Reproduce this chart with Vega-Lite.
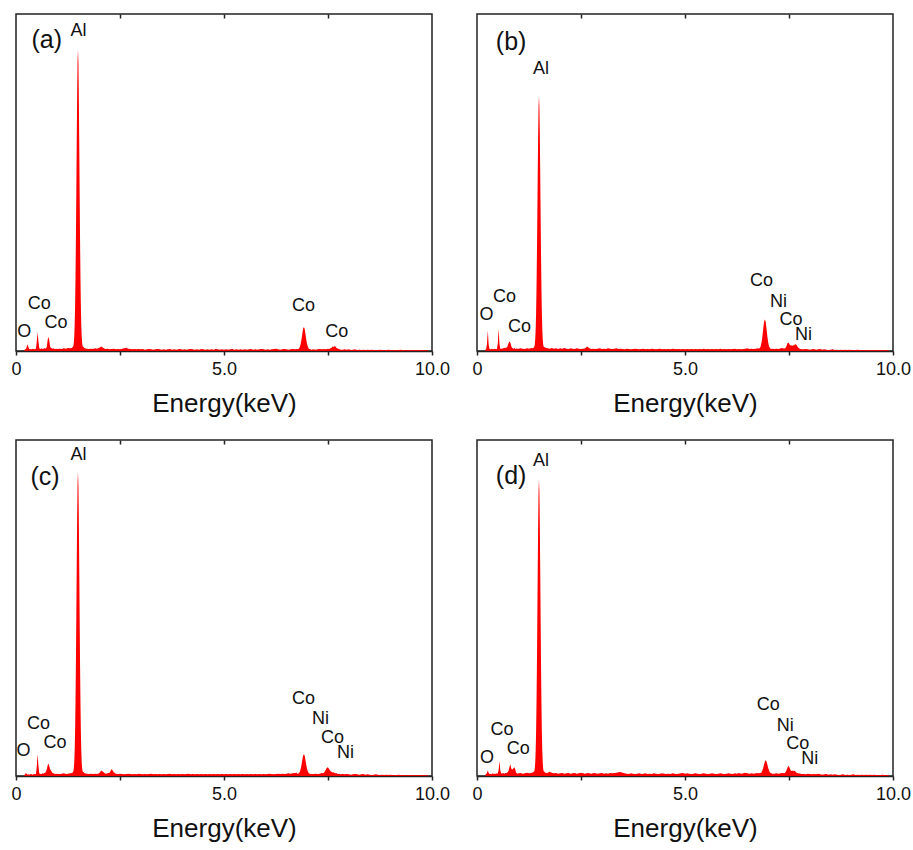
{
"$schema": "https://vega.github.io/schema/vega-lite/v6.json",
"background": "white",
"padding": {"left": 10, "top": 12, "right": 2, "bottom": 2},
"config": {
  "font": "Liberation Sans",
  "view": {"stroke": "#222", "strokeWidth": 1.5},
  "axis": {"grid": false, "domainColor": "#222", "tickColor": "#222", "labelColor": "#111", "titleColor": "#111", "labelFontSize": 18, "titleFontSize": 26, "titleFontWeight": "normal", "labelFont": "Liberation Sans", "titleFont": "Liberation Sans"},
  "text": {"font": "Liberation Sans", "color": "#111"}
},
"datasets": {
"spec": [
{"e":0.20,"a":0.3,"b":0.4,"c":0.3,"d":0.4},{"e":0.22,"a":0.5,"b":0.6,"c":0.5,"d":0.6},{"e":0.24,"a":0.6,"b":2.1,"c":0.9,"d":0.9},{"e":0.26,"a":1.3,"b":6.1,"c":0.6,"d":1.7},{"e":0.28,"a":2.0,"b":2.0,"c":0.4,"d":0.9},{"e":0.30,"a":1.1,"b":0.6,"c":0.5,"d":0.6},{"e":0.32,"a":0.6,"b":0.5,"c":0.4,"d":0.7},{"e":0.34,"a":0.5,"b":0.6,"c":0.5,"d":0.5},{"e":0.36,"a":0.6,"b":0.7,"c":0.6,"d":0.6},{"e":0.38,"a":0.5,"b":0.5,"c":0.5,"d":0.8},{"e":0.40,"a":0.7,"b":0.6,"c":0.4,"d":0.6},{"e":0.42,"a":0.6,"b":0.7,"c":0.5,"d":0.7},{"e":0.44,"a":0.5,"b":0.6,"c":0.6,"d":0.6},{"e":0.46,"a":0.6,"b":0.5,"c":0.5,"d":0.8},{"e":0.48,"a":0.7,"b":0.7,"c":0.6,"d":0.7},{"e":0.50,"a":2.9,"b":2.2,"c":2.9,"d":0.8},{"e":0.52,"a":5.6,"b":6.6,"c":6.5,"d":1.8},{"e":0.54,"a":2.8,"b":2.1,"c":3.0,"d":4.5},{"e":0.56,"a":0.8,"b":0.7,"c":0.8,"d":1.7},{"e":0.58,"a":0.7,"b":0.6,"c":0.6,"d":0.8},{"e":0.60,"a":0.6,"b":0.8,"c":0.7,"d":0.7},{"e":0.62,"a":0.8,"b":0.7,"c":0.6,"d":0.9},{"e":0.64,"a":0.6,"b":0.9,"c":0.8,"d":0.8},{"e":0.66,"a":0.7,"b":1.0,"c":0.7,"d":0.7},{"e":0.68,"a":0.9,"b":0.8,"c":0.9,"d":0.9},{"e":0.70,"a":0.7,"b":1.1,"c":1.0,"d":0.8},{"e":0.72,"a":0.8,"b":1.0,"c":1.3,"d":1.0},{"e":0.74,"a":1.2,"b":1.6,"c":2.0,"d":1.1},{"e":0.76,"a":3.2,"b":2.4,"c":3.1,"d":1.6},{"e":0.78,"a":4.2,"b":2.8,"c":3.7,"d":2.6},{"e":0.80,"a":3.1,"b":2.5,"c":3.0,"d":3.5},{"e":0.82,"a":1.3,"b":1.6,"c":2.0,"d":2.4},{"e":0.84,"a":0.9,"b":1.0,"c":1.6,"d":1.9},{"e":0.86,"a":0.8,"b":0.8,"c":1.2,"d":2.0},{"e":0.88,"a":0.7,"b":0.7,"c":0.9,"d":2.4},{"e":0.90,"a":0.8,"b":0.9,"c":0.8,"d":2.6},{"e":0.92,"a":0.6,"b":0.6,"c":0.7,"d":1.9},{"e":0.94,"a":0.7,"b":0.7,"c":0.6,"d":1.0},{"e":0.96,"a":0.6,"b":0.8,"c":0.7,"d":0.8},{"e":0.98,"a":0.7,"b":0.6,"c":0.6,"d":0.7},{"e":1.00,"a":0.6,"b":0.7,"c":0.7,"d":0.8},
{"e":1.05,"a":0.7,"b":0.8,"c":0.6,"d":0.9},{"e":1.10,"a":0.6,"b":0.7,"c":0.7,"d":0.7},{"e":1.15,"a":0.8,"b":0.6,"c":0.8,"d":0.8},{"e":1.20,"a":0.7,"b":0.8,"c":0.6,"d":1.0},{"e":1.25,"a":0.9,"b":0.7,"c":0.7,"d":0.8},{"e":1.30,"a":0.8,"b":0.9,"c":0.8,"d":0.9},{"e":1.35,"a":1.0,"b":0.8,"c":0.9,"d":1.1},
{"e":1.38,"a":1.5,"b":1.3,"c":1.4,"d":1.5},{"e":1.39,"a":2.4,"b":2.1,"c":2.3,"d":2.4},{"e":1.40,"a":4.2,"b":3.6,"c":4.1,"d":4.1},{"e":1.41,"a":7.4,"b":6.3,"c":7.4,"d":7.3},{"e":1.42,"a":12.9,"b":10.9,"c":12.9,"d":12.7},{"e":1.43,"a":21.3,"b":18.0,"c":21.5,"d":21.0},{"e":1.44,"a":32.8,"b":27.8,"c":33.1,"d":32.4},{"e":1.45,"a":47.0,"b":39.7,"c":47.5,"d":46.3},{"e":1.46,"a":62.0,"b":52.5,"c":62.8,"d":61.2},{"e":1.47,"a":76.2,"b":64.5,"c":77.1,"d":75.2},{"e":1.48,"a":86.0,"b":72.7,"c":87.0,"d":84.8},{"e":1.49,"a":89.5,"b":75.7,"c":90.6,"d":88.3},{"e":1.50,"a":86.0,"b":72.7,"c":87.0,"d":84.8},{"e":1.51,"a":76.2,"b":64.5,"c":77.1,"d":75.2},{"e":1.52,"a":62.0,"b":52.5,"c":62.8,"d":61.2},{"e":1.53,"a":47.0,"b":39.7,"c":47.5,"d":46.3},{"e":1.54,"a":32.8,"b":27.8,"c":33.1,"d":32.4},{"e":1.55,"a":21.3,"b":18.0,"c":21.5,"d":21.0},{"e":1.56,"a":12.9,"b":10.9,"c":12.9,"d":12.7},{"e":1.57,"a":7.4,"b":6.3,"c":7.4,"d":7.3},{"e":1.58,"a":4.2,"b":3.6,"c":4.1,"d":4.1},{"e":1.59,"a":2.4,"b":2.1,"c":2.3,"d":2.4},{"e":1.60,"a":1.5,"b":1.3,"c":1.4,"d":1.5},
{"e":1.65,"a":0.8,"b":1.0,"c":0.8,"d":0.9},{"e":1.70,"a":0.7,"b":0.8,"c":0.7,"d":1.0},{"e":1.75,"a":0.6,"b":0.7,"c":0.6,"d":1.3},{"e":1.80,"a":0.7,"b":0.9,"c":0.7,"d":1.0},{"e":1.85,"a":0.6,"b":0.7,"c":0.6,"d":0.8},{"e":1.90,"a":0.8,"b":0.8,"c":0.7,"d":0.9},{"e":1.95,"a":0.7,"b":0.6,"c":0.6,"d":0.7},{"e":2.00,"a":1.0,"b":0.8,"c":0.8,"d":0.8},{"e":2.05,"a":1.3,"b":0.7,"c":1.6,"d":0.9},{"e":2.10,"a":0.9,"b":0.9,"c":1.2,"d":0.7},{"e":2.15,"a":0.6,"b":0.7,"c":0.7,"d":0.8},{"e":2.20,"a":0.7,"b":0.6,"c":0.8,"d":0.9},{"e":2.25,"a":0.5,"b":0.8,"c":1.0,"d":0.7},{"e":2.30,"a":0.6,"b":0.7,"c":2.1,"d":0.8},{"e":2.35,"a":0.7,"b":0.6,"c":1.1,"d":0.9},{"e":2.40,"a":0.5,"b":0.8,"c":0.7,"d":0.7},{"e":2.45,"a":0.6,"b":0.7,"c":0.6,"d":0.8},{"e":2.50,"a":0.5,"b":0.6,"c":0.7,"d":1.0},{"e":2.55,"a":0.7,"b":0.7,"c":0.6,"d":0.8},{"e":2.60,"a":0.8,"b":0.8,"c":0.5,"d":0.7},{"e":2.65,"a":1.0,"b":1.3,"c":0.6,"d":0.9},{"e":2.70,"a":0.7,"b":0.8,"c":0.7,"d":0.8},{"e":2.75,"a":0.6,"b":0.6,"c":0.6,"d":0.7},{"e":2.80,"a":0.5,"b":0.7,"c":0.5,"d":0.9},{"e":2.85,"a":0.6,"b":0.6,"c":0.6,"d":0.8},{"e":2.90,"a":0.5,"b":0.7,"c":0.5,"d":0.7},{"e":2.95,"a":0.6,"b":0.8,"c":0.7,"d":0.8},{"e":3.00,"a":0.5,"b":0.6,"c":0.6,"d":0.9},{"e":3.05,"a":0.6,"b":0.7,"c":0.5,"d":0.7},{"e":3.10,"a":0.4,"b":0.6,"c":0.6,"d":0.8},{"e":3.15,"a":0.5,"b":0.8,"c":0.5,"d":0.7},{"e":3.20,"a":0.6,"b":0.7,"c":0.6,"d":0.9},{"e":3.25,"a":0.5,"b":0.6,"c":0.7,"d":0.8},{"e":3.30,"a":0.4,"b":0.7,"c":0.5,"d":0.9},{"e":3.35,"a":0.5,"b":0.8,"c":0.6,"d":1.0},{"e":3.40,"a":0.6,"b":0.6,"c":0.5,"d":1.1},{"e":3.45,"a":0.5,"b":0.7,"c":0.6,"d":1.2},{"e":3.50,"a":0.4,"b":0.6,"c":0.5,"d":1.0},{"e":3.55,"a":0.5,"b":0.5,"c":0.6,"d":0.8},{"e":3.60,"a":0.4,"b":0.7,"c":0.5,"d":0.7},{"e":3.65,"a":0.5,"b":0.6,"c":0.6,"d":0.6},{"e":3.70,"a":0.6,"b":0.5,"c":0.7,"d":0.8},{"e":3.75,"a":0.4,"b":0.6,"c":0.5,"d":0.7},{"e":3.80,"a":0.5,"b":0.7,"c":0.6,"d":0.6},{"e":3.85,"a":0.4,"b":0.6,"c":0.5,"d":0.7},{"e":3.90,"a":0.5,"b":0.5,"c":0.6,"d":0.8},{"e":3.95,"a":0.6,"b":0.6,"c":0.5,"d":0.6},{"e":4.00,"a":0.4,"b":0.7,"c":0.6,"d":0.7},{"e":4.05,"a":0.5,"b":0.5,"c":0.5,"d":0.8},{"e":4.10,"a":0.4,"b":0.6,"c":0.6,"d":0.6},{"e":4.15,"a":0.5,"b":0.5,"c":0.7,"d":0.7},{"e":4.20,"a":0.6,"b":0.7,"c":0.5,"d":0.6},{"e":4.25,"a":0.5,"b":0.6,"c":0.6,"d":0.8},{"e":4.30,"a":0.4,"b":0.5,"c":0.5,"d":0.7},{"e":4.35,"a":0.5,"b":0.6,"c":0.6,"d":0.6},{"e":4.40,"a":0.4,"b":0.7,"c":0.5,"d":0.7},{"e":4.45,"a":0.6,"b":0.5,"c":0.6,"d":0.8},{"e":4.50,"a":0.5,"b":0.6,"c":0.5,"d":0.7},{"e":4.55,"a":0.4,"b":0.5,"c":0.6,"d":0.6},{"e":4.60,"a":0.5,"b":0.6,"c":0.5,"d":0.7},{"e":4.65,"a":0.4,"b":0.5,"c":0.6,"d":0.6},{"e":4.70,"a":0.5,"b":0.7,"c":0.5,"d":0.8},{"e":4.75,"a":0.4,"b":0.6,"c":0.6,"d":0.7},{"e":4.80,"a":0.6,"b":0.5,"c":0.5,"d":0.6},{"e":4.85,"a":0.5,"b":0.6,"c":0.6,"d":0.7},{"e":4.90,"a":0.4,"b":0.5,"c":0.5,"d":0.8},{"e":4.95,"a":0.5,"b":0.6,"c":0.6,"d":0.9},{"e":5.00,"a":0.4,"b":0.5,"c":0.5,"d":0.7},{"e":5.05,"a":0.5,"b":0.6,"c":0.6,"d":0.8},{"e":5.10,"a":0.4,"b":0.5,"c":0.5,"d":0.7},{"e":5.15,"a":0.5,"b":0.6,"c":0.6,"d":0.6},{"e":5.20,"a":0.6,"b":0.5,"c":0.5,"d":0.7},{"e":5.25,"a":0.4,"b":0.6,"c":0.6,"d":0.8},{"e":5.30,"a":0.5,"b":0.5,"c":0.5,"d":0.7},{"e":5.35,"a":0.4,"b":0.6,"c":0.6,"d":0.6},{"e":5.40,"a":0.5,"b":0.5,"c":0.5,"d":0.7},{"e":5.45,"a":0.4,"b":0.7,"c":0.6,"d":0.8},{"e":5.50,"a":0.5,"b":0.5,"c":0.5,"d":0.7},{"e":5.55,"a":0.4,"b":0.6,"c":0.6,"d":0.6},{"e":5.60,"a":0.5,"b":0.5,"c":0.5,"d":0.7},{"e":5.65,"a":0.6,"b":0.6,"c":0.6,"d":0.8},{"e":5.70,"a":0.4,"b":0.5,"c":0.5,"d":0.7},{"e":5.75,"a":0.5,"b":0.6,"c":0.6,"d":0.6},{"e":5.80,"a":0.4,"b":0.5,"c":0.5,"d":0.7},{"e":5.85,"a":0.5,"b":0.7,"c":0.6,"d":0.8},{"e":5.90,"a":0.6,"b":0.5,"c":0.5,"d":0.7},{"e":5.95,"a":0.5,"b":0.6,"c":0.6,"d":0.6},{"e":6.00,"a":0.4,"b":0.5,"c":0.5,"d":0.7},{"e":6.05,"a":0.5,"b":0.6,"c":0.6,"d":0.8},{"e":6.10,"a":0.4,"b":0.5,"c":0.7,"d":0.7},{"e":6.15,"a":0.5,"b":0.6,"c":0.6,"d":0.6},{"e":6.20,"a":0.6,"b":0.7,"c":0.5,"d":0.8},{"e":6.25,"a":0.7,"b":0.5,"c":0.6,"d":0.7},{"e":6.30,"a":0.5,"b":0.6,"c":0.7,"d":0.9},{"e":6.35,"a":0.4,"b":0.5,"c":0.6,"d":0.7},{"e":6.40,"a":0.5,"b":0.6,"c":0.7,"d":0.8},{"e":6.45,"a":0.6,"b":0.7,"c":0.6,"d":1.0},{"e":6.50,"a":0.5,"b":0.8,"c":0.7,"d":0.8},{"e":6.55,"a":0.4,"b":0.6,"c":0.8,"d":0.7},{"e":6.60,"a":0.5,"b":0.7,"c":0.7,"d":0.8},{"e":6.65,"a":0.6,"b":0.6,"c":0.8,"d":0.7},{"e":6.70,"a":0.5,"b":0.7,"c":0.9,"d":0.8},{"e":6.75,"a":0.6,"b":0.8,"c":1.0,"d":0.9},
{"e":6.76,"a":0.5,"b":0.7,"c":0.7,"d":0.8},{"e":6.78,"a":0.6,"b":0.8,"c":0.7,"d":0.8},{"e":6.80,"a":0.7,"b":0.9,"c":0.9,"d":0.9},{"e":6.82,"a":1.1,"b":1.4,"c":1.2,"d":0.9},{"e":6.84,"a":1.9,"b":2.5,"c":1.9,"d":1.1},{"e":6.86,"a":3.2,"b":4.3,"c":3.1,"d":1.6},{"e":6.88,"a":4.9,"b":6.5,"c":4.6,"d":2.4},{"e":6.90,"a":6.5,"b":8.6,"c":6.0,"d":3.4},{"e":6.92,"a":7.1,"b":9.4,"c":6.5,"d":4.3},{"e":6.94,"a":6.5,"b":8.6,"c":6.0,"d":4.7},{"e":6.96,"a":4.9,"b":6.5,"c":4.6,"d":4.3},{"e":6.98,"a":3.2,"b":4.3,"c":3.1,"d":3.4},{"e":7.00,"a":1.9,"b":2.5,"c":1.9,"d":2.4},{"e":7.02,"a":1.1,"b":1.4,"c":1.2,"d":1.6},{"e":7.04,"a":0.7,"b":0.9,"c":0.9,"d":1.1},{"e":7.06,"a":0.6,"b":0.7,"c":0.7,"d":0.9},{"e":7.08,"a":0.5,"b":0.6,"c":0.6,"d":0.8},{"e":7.10,"a":0.4,"b":0.7,"c":0.6,"d":0.7},
{"e":7.15,"a":0.5,"b":0.6,"c":0.6,"d":0.7},{"e":7.20,"a":0.4,"b":0.7,"c":0.7,"d":0.8},{"e":7.25,"a":0.5,"b":0.6,"c":0.6,"d":0.7},{"e":7.30,"a":0.6,"b":0.8,"c":0.7,"d":0.8},{"e":7.35,"a":0.5,"b":0.9,"c":0.9,"d":0.9},
{"e":7.38,"a":0.5,"b":0.7,"c":0.8,"d":0.8},{"e":7.40,"a":0.6,"b":0.8,"c":1.0,"d":0.9},{"e":7.42,"a":0.5,"b":1.0,"c":1.3,"d":1.2},{"e":7.44,"a":0.6,"b":1.5,"c":1.7,"d":1.7},{"e":7.46,"a":0.5,"b":2.2,"c":2.2,"d":2.4},{"e":7.48,"a":0.6,"b":2.5,"c":2.5,"d":3.0},{"e":7.50,"a":0.7,"b":2.3,"c":2.5,"d":2.8},{"e":7.52,"a":0.6,"b":1.8,"c":2.2,"d":2.2},{"e":7.54,"a":0.7,"b":1.6,"c":1.8,"d":1.7},{"e":7.56,"a":0.8,"b":1.7,"c":1.5,"d":1.5},{"e":7.58,"a":0.9,"b":1.5,"c":1.3,"d":1.6},{"e":7.60,"a":1.2,"b":1.8,"c":1.2,"d":1.4},{"e":7.62,"a":1.4,"b":1.6,"c":1.0,"d":1.6},{"e":7.64,"a":1.1,"b":1.9,"c":1.1,"d":1.5},{"e":7.66,"a":1.5,"b":2.0,"c":0.9,"d":1.3},{"e":7.68,"a":1.3,"b":1.8,"c":0.8,"d":1.0},{"e":7.70,"a":1.0,"b":1.4,"c":0.9,"d":0.9},{"e":7.72,"a":0.8,"b":1.0,"c":0.7,"d":0.8},{"e":7.74,"a":0.7,"b":0.8,"c":0.6,"d":0.7},{"e":7.76,"a":0.6,"b":0.7,"c":0.7,"d":0.8},{"e":7.78,"a":0.5,"b":0.6,"c":0.6,"d":0.7},{"e":7.80,"a":0.4,"b":0.5,"c":0.5,"d":0.6},
{"e":7.85,"a":0.4,"b":0.5,"c":0.6,"d":0.6},{"e":7.90,"a":0.5,"b":0.6,"c":0.5,"d":0.5},{"e":7.95,"a":0.4,"b":0.5,"c":0.6,"d":0.7},{"e":8.00,"a":0.5,"b":0.4,"c":0.5,"d":0.6},{"e":8.05,"a":0.3,"b":0.5,"c":0.4,"d":0.5},{"e":8.10,"a":0.4,"b":0.6,"c":0.5,"d":0.6},{"e":8.15,"a":0.5,"b":0.4,"c":0.6,"d":0.5},{"e":8.20,"a":0.3,"b":0.5,"c":0.5,"d":0.7},{"e":8.25,"a":0.4,"b":0.6,"c":0.4,"d":0.5},{"e":8.30,"a":0.3,"b":0.4,"c":0.5,"d":0.4},{"e":8.35,"a":0.4,"b":0.5,"c":0.6,"d":0.5},{"e":8.40,"a":0.3,"b":0.4,"c":0.4,"d":0.6},{"e":8.45,"a":0.4,"b":0.3,"c":0.5,"d":0.4},{"e":8.50,"a":0.3,"b":0.4,"c":0.4,"d":0.5},{"e":8.55,"a":0.4,"b":0.5,"c":0.3,"d":0.4},{"e":8.60,"a":0.3,"b":0.3,"c":0.4,"d":0.5},{"e":8.65,"a":0.2,"b":0.4,"c":0.5,"d":0.4},{"e":8.70,"a":0.3,"b":0.3,"c":0.4,"d":0.3},{"e":8.75,"a":0.4,"b":0.4,"c":0.3,"d":0.4},{"e":8.80,"a":0.3,"b":0.3,"c":0.4,"d":0.5},{"e":8.85,"a":0.2,"b":0.4,"c":0.3,"d":0.3},{"e":8.90,"a":0.3,"b":0.3,"c":0.4,"d":0.4},{"e":8.95,"a":0.4,"b":0.4,"c":0.3,"d":0.3},{"e":9.00,"a":0.3,"b":0.3,"c":0.4,"d":0.4},{"e":9.05,"a":0.2,"b":0.2,"c":0.3,"d":0.5},{"e":9.10,"a":0.3,"b":0.3,"c":0.2,"d":0.3},{"e":9.15,"a":0.2,"b":0.4,"c":0.3,"d":0.4},{"e":9.20,"a":0.3,"b":0.3,"c":0.4,"d":0.3},{"e":9.25,"a":0.4,"b":0.2,"c":0.3,"d":0.4},{"e":9.30,"a":0.2,"b":0.3,"c":0.2,"d":0.3},{"e":9.35,"a":0.3,"b":0.2,"c":0.3,"d":0.4},{"e":9.40,"a":0.2,"b":0.3,"c":0.2,"d":0.3},{"e":9.45,"a":0.3,"b":0.2,"c":0.3,"d":0.4},{"e":9.50,"a":0.2,"b":0.3,"c":0.2,"d":0.3},{"e":9.55,"a":0.3,"b":0.2,"c":0.3,"d":0.4},{"e":9.60,"a":0.2,"b":0.3,"c":0.2,"d":0.3},{"e":9.65,"a":0.3,"b":0.2,"c":0.3,"d":0.2},{"e":9.70,"a":0.2,"b":0.3,"c":0.2,"d":0.3},{"e":9.75,"a":0.3,"b":0.2,"c":0.3,"d":0.4},{"e":9.80,"a":0.2,"b":0.3,"c":0.2,"d":0.3},{"e":9.85,"a":0.2,"b":0.2,"c":0.2,"d":0.2},{"e":9.90,"a":0.2,"b":0.2,"c":0.2,"d":0.3}
],
"peaks": [
{"p":"a","t":"Al","e":1.50,"y":95.0},{"p":"a","t":"Co","e":0.56,"y":13.9},{"p":"a","t":"O","e":0.20,"y":5.7},{"p":"a","t":"Co","e":0.96,"y":8.4},{"p":"a","t":"Co","e":6.91,"y":13.4},{"p":"a","t":"Co","e":7.71,"y":5.7},
{"p":"b","t":"Al","e":1.54,"y":83.6},{"p":"b","t":"Co","e":0.66,"y":16.1},{"p":"b","t":"O","e":0.23,"y":10.6},{"p":"b","t":"Co","e":1.02,"y":7.1},{"p":"b","t":"Co","e":6.84,"y":20.8},{"p":"b","t":"Ni","e":7.25,"y":14.5},{"p":"b","t":"Co","e":7.55,"y":9.1},{"p":"b","t":"Ni","e":7.85,"y":4.7},
{"p":"c","t":"Al","e":1.50,"y":95.5},{"p":"c","t":"Co","e":0.54,"y":15.6},{"p":"c","t":"O","e":0.18,"y":7.4},{"p":"c","t":"Co","e":0.94,"y":9.9},{"p":"c","t":"Co","e":6.91,"y":23.0},{"p":"c","t":"Ni","e":7.32,"y":16.9},{"p":"c","t":"Co","e":7.61,"y":11.4},{"p":"c","t":"Ni","e":7.92,"y":6.8},
{"p":"d","t":"Al","e":1.54,"y":93.8},{"p":"d","t":"Co","e":0.60,"y":13.6},{"p":"d","t":"O","e":0.24,"y":5.4},{"p":"d","t":"Co","e":0.99,"y":7.9},{"p":"d","t":"Co","e":7.00,"y":21.0},{"p":"d","t":"Ni","e":7.41,"y":14.9},{"p":"d","t":"Co","e":7.71,"y":9.6},{"p":"d","t":"Ni","e":8.00,"y":5.0}
],
"tags": [
{"p":"a","t":"(a)","e":0.74,"y":92.2},{"p":"b","t":"(b)","e":0.82,"y":91.8},{"p":"c","t":"(c)","e":0.70,"y":89.0},{"p":"d","t":"(d)","e":0.82,"y":89.3}
]
},
"bounds": "flush",
"columns": 2,
"spacing": {"row": 89, "column": 45},
"concat": [
{"width": 416, "height": 337, "resolve": {"axis": {"x": "independent"}}, "layer": [
 {"data": {"name": "spec"}, "mark": {"type": "area", "color": "#ff0000"}, "encoding": {"x": {"field": "e", "type": "quantitative", "scale": {"domain": [0, 10]}, "axis": {"orient": "bottom", "values": [0, 2.5, 5, 7.5, 10], "labelExpr": "datum.value == 0 ? '0' : (datum.value == 5 || datum.value == 10) ? format(datum.value, '.1f') : ''", "title": "Energy(keV)", "tickSize": 4, "tickWidth": 1.5, "domainWidth": 1.5, "labelPadding": 5, "titlePadding": 12, "labelFlush": false, "labelOverlap": false}}, "y": {"field": "a", "type": "quantitative", "scale": {"domain": [0, 100]}, "axis": null}}},
 {"data": {"name": "peaks"}, "transform": [{"filter": "datum.p == 'a'"}], "mark": {"type": "text", "fontSize": 18}, "encoding": {"x": {"field": "e", "type": "quantitative", "axis": {"orient": "top", "values": [2.5, 5, 7.5], "labels": false, "title": null, "tickSize": -4, "tickWidth": 1.5, "domain": false}}, "y": {"field": "y", "type": "quantitative", "axis": null}, "text": {"field": "t"}}},
 {"data": {"name": "tags"}, "transform": [{"filter": "datum.p == 'a'"}], "mark": {"type": "text", "fontSize": 25}, "encoding": {"x": {"field": "e", "type": "quantitative", "axis": null}, "y": {"field": "y", "type": "quantitative", "axis": null}, "text": {"field": "t"}}}
]},
{"width": 416, "height": 337, "resolve": {"axis": {"x": "independent"}}, "layer": [
 {"data": {"name": "spec"}, "mark": {"type": "area", "color": "#ff0000"}, "encoding": {"x": {"field": "e", "type": "quantitative", "scale": {"domain": [0, 10]}, "axis": {"orient": "bottom", "values": [0, 2.5, 5, 7.5, 10], "labelExpr": "datum.value == 0 ? '0' : (datum.value == 5 || datum.value == 10) ? format(datum.value, '.1f') : ''", "title": "Energy(keV)", "tickSize": 4, "tickWidth": 1.5, "domainWidth": 1.5, "labelPadding": 5, "titlePadding": 12, "labelFlush": false, "labelOverlap": false}}, "y": {"field": "b", "type": "quantitative", "scale": {"domain": [0, 100]}, "axis": null}}},
 {"data": {"name": "peaks"}, "transform": [{"filter": "datum.p == 'b'"}], "mark": {"type": "text", "fontSize": 18}, "encoding": {"x": {"field": "e", "type": "quantitative", "axis": {"orient": "top", "values": [2.5, 5, 7.5], "labels": false, "title": null, "tickSize": -4, "tickWidth": 1.5, "domain": false}}, "y": {"field": "y", "type": "quantitative", "axis": null}, "text": {"field": "t"}}},
 {"data": {"name": "tags"}, "transform": [{"filter": "datum.p == 'b'"}], "mark": {"type": "text", "fontSize": 25}, "encoding": {"x": {"field": "e", "type": "quantitative", "axis": null}, "y": {"field": "y", "type": "quantitative", "axis": null}, "text": {"field": "t"}}}
]},
{"width": 416, "height": 336, "resolve": {"axis": {"x": "independent"}}, "layer": [
 {"data": {"name": "spec"}, "mark": {"type": "area", "color": "#ff0000"}, "encoding": {"x": {"field": "e", "type": "quantitative", "scale": {"domain": [0, 10]}, "axis": {"orient": "bottom", "values": [0, 2.5, 5, 7.5, 10], "labelExpr": "datum.value == 0 ? '0' : (datum.value == 5 || datum.value == 10) ? format(datum.value, '.1f') : ''", "title": "Energy(keV)", "tickSize": 4, "tickWidth": 1.5, "domainWidth": 1.5, "labelPadding": 5, "titlePadding": 12, "labelFlush": false, "labelOverlap": false}}, "y": {"field": "c", "type": "quantitative", "scale": {"domain": [0, 100]}, "axis": null}}},
 {"data": {"name": "peaks"}, "transform": [{"filter": "datum.p == 'c'"}], "mark": {"type": "text", "fontSize": 18}, "encoding": {"x": {"field": "e", "type": "quantitative", "axis": {"orient": "top", "values": [2.5, 5, 7.5], "labels": false, "title": null, "tickSize": -4, "tickWidth": 1.5, "domain": false}}, "y": {"field": "y", "type": "quantitative", "axis": null}, "text": {"field": "t"}}},
 {"data": {"name": "tags"}, "transform": [{"filter": "datum.p == 'c'"}], "mark": {"type": "text", "fontSize": 25}, "encoding": {"x": {"field": "e", "type": "quantitative", "axis": null}, "y": {"field": "y", "type": "quantitative", "axis": null}, "text": {"field": "t"}}}
]},
{"width": 416, "height": 336, "resolve": {"axis": {"x": "independent"}}, "layer": [
 {"data": {"name": "spec"}, "mark": {"type": "area", "color": "#ff0000"}, "encoding": {"x": {"field": "e", "type": "quantitative", "scale": {"domain": [0, 10]}, "axis": {"orient": "bottom", "values": [0, 2.5, 5, 7.5, 10], "labelExpr": "datum.value == 0 ? '0' : (datum.value == 5 || datum.value == 10) ? format(datum.value, '.1f') : ''", "title": "Energy(keV)", "tickSize": 4, "tickWidth": 1.5, "domainWidth": 1.5, "labelPadding": 5, "titlePadding": 12, "labelFlush": false, "labelOverlap": false}}, "y": {"field": "d", "type": "quantitative", "scale": {"domain": [0, 100]}, "axis": null}}},
 {"data": {"name": "peaks"}, "transform": [{"filter": "datum.p == 'd'"}], "mark": {"type": "text", "fontSize": 18}, "encoding": {"x": {"field": "e", "type": "quantitative", "axis": {"orient": "top", "values": [2.5, 5, 7.5], "labels": false, "title": null, "tickSize": -4, "tickWidth": 1.5, "domain": false}}, "y": {"field": "y", "type": "quantitative", "axis": null}, "text": {"field": "t"}}},
 {"data": {"name": "tags"}, "transform": [{"filter": "datum.p == 'd'"}], "mark": {"type": "text", "fontSize": 25}, "encoding": {"x": {"field": "e", "type": "quantitative", "axis": null}, "y": {"field": "y", "type": "quantitative", "axis": null}, "text": {"field": "t"}}}
]}
]
}
